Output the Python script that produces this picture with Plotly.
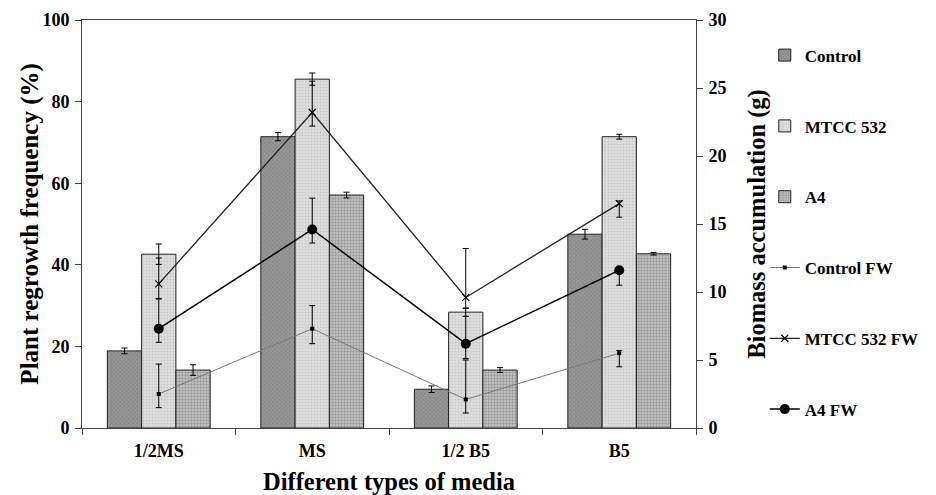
import plotly.graph_objects as go

media = ["1/2MS", "MS", "1/2 B5", "B5"]

# Plant regrowth frequency (%) – bars
control = [18.9, 71.4, 9.5, 47.5]
control_err = [0.7, 1.0, 0.8, 1.2]
mtcc = [42.6, 85.5, 28.4, 71.4]
mtcc_err = [2.5, 1.5, 1.0, 0.6]
a4 = [14.2, 57.1, 14.2, 42.7]
a4_err = [1.3, 0.7, 0.6, 0.3]

# Biomass accumulation (g) – lines
control_fw = [2.5, 7.3, 2.1, 5.5]
control_fw_up = [2.2, 1.7, 2.9, 0.2]
control_fw_dn = [1.0, 1.1, 1.0, 1.0]
mtcc_fw = [10.6, 23.2, 9.6, 16.5]
mtcc_fw_up = [1.9, 2.3, 3.6, 0.2]
mtcc_fw_dn = [1.1, 1.0, 0.8, 1.0]
a4_fw = [7.3, 14.6, 6.2, 11.6]
a4_fw_up = [2.2, 2.3, 2.0, 0.1]
a4_fw_dn = [1.0, 1.0, 1.1, 1.1]

FONT = "Times New Roman, Liberation Serif, serif"

fig = go.Figure()

def err(vals):
    return dict(type="data", array=vals, visible=True, color="black", thickness=1, width=3)

fig.add_trace(go.Bar(
    x=media, y=control, name="Control", error_y=err(control_err),
    marker=dict(color="#8e8e8e", line=dict(color="#222", width=1),
                pattern=dict(shape="x", size=3, solidity=0.3, fgcolor="#5e5e5e", bgcolor="#989898")),
    legendgroup="g1"))
fig.add_trace(go.Bar(
    x=media, y=mtcc, name="MTCC 532", error_y=err(mtcc_err),
    marker=dict(color="#d8d8d8", line=dict(color="#222", width=1),
                pattern=dict(shape=".", size=3, solidity=0.3, fgcolor="#b0b0b0", bgcolor="#dedede")),
    legendgroup="g2"))
fig.add_trace(go.Bar(
    x=media, y=a4, name="A4", error_y=err(a4_err),
    marker=dict(color="#b0b0b0", line=dict(color="#222", width=1),
                pattern=dict(shape=".", size=3, solidity=0.5, fgcolor="#6a6a6a", bgcolor="#c8c8c8")),
    legendgroup="g3"))

def err2(up, dn):
    return dict(type="data", array=up, arrayminus=dn, symmetric=False, visible=True,
                color="black", thickness=1, width=3)

fig.add_trace(go.Scatter(
    x=media, y=control_fw, name="Control FW", yaxis="y2", mode="lines+markers",
    line=dict(color="#7a7a7a", width=1), marker=dict(symbol="square", size=4, color="black"),
    error_y=err2(control_fw_up, control_fw_dn), legendgroup="g4"))
fig.add_trace(go.Scatter(
    x=media, y=mtcc_fw, name="MTCC 532 FW", yaxis="y2", mode="lines+markers",
    line=dict(color="#222", width=1.3), marker=dict(symbol="x-thin", size=7, color="black",
                                                   line=dict(color="black", width=1.2)),
    error_y=err2(mtcc_fw_up, mtcc_fw_dn), legendgroup="g5"))
fig.add_trace(go.Scatter(
    x=media, y=a4_fw, name="A4 FW", yaxis="y2", mode="lines+markers",
    line=dict(color="black", width=1.5), marker=dict(symbol="circle", size=10, color="black"),
    error_y=err2(a4_fw_up, a4_fw_dn), legendgroup="g6"))

fig.update_layout(
    width=936, height=495,
    margin=dict(l=82, r=233, t=20, b=67),
    paper_bgcolor="white", plot_bgcolor="white",
    font=dict(family=FONT, color="black", size=15),
    barmode="group", bargap=0.33, bargroupgap=0,
    xaxis=dict(
        type="category", showline=True, linecolor="#444", linewidth=1, mirror=True,
        ticks="outside", tickson="boundaries", ticklen=6, tickcolor="#444", automargin=False,
        tickfont=dict(family=FONT, size=18, weight="bold"), ticklabelstandoff=6,
        title=dict(text="<b>Different types of media</b>", font=dict(family=FONT, size=24.5), standoff=29),
    ),
    yaxis=dict(
        range=[0, 100], dtick=20, showgrid=False, zeroline=False, automargin=False,
        showline=True, linecolor="#444", linewidth=1, ticks="outside", ticklen=6, tickcolor="#444",
        tickfont=dict(family=FONT, size=18, weight="bold"), ticklabelstandoff=2,
    ),
    yaxis2=dict(
        range=[0, 30], dtick=5, overlaying="y", side="right", showgrid=False, zeroline=False,
        automargin=False,
        showline=True, linecolor="#444", linewidth=1, ticks="outside", ticklen=6, tickcolor="#444",
        tickfont=dict(family=FONT, size=18, weight="bold"), ticklabelstandoff=2,
        title=dict(text="<b>Biomass accumulation (g)</b>", font=dict(family=FONT, size=24.5), standoff=22),
    ),
    legend=dict(
        x=1.112, y=0.957, xanchor="left", yanchor="top",
        traceorder="grouped", tracegroupgap=45.7,
        font=dict(family=FONT, size=17, weight="bold"),
        bgcolor="rgba(0,0,0,0)", itemwidth=30,
    ),
    annotations=[dict(
        text="<b>Plant regrowth frequency (%)</b>", textangle=-90,
        xref="paper", yref="paper", x=-0.0853, y=0.5, xanchor="center", yanchor="middle",
        showarrow=False, font=dict(family=FONT, size=25, color="black"),
    )],
    showlegend=True,
)

fig.write_html(
    "out.html",
    config={"displayModeBar": False},
    post_script="document.body.style.margin='0';document.body.style.overflow='hidden';",
)
